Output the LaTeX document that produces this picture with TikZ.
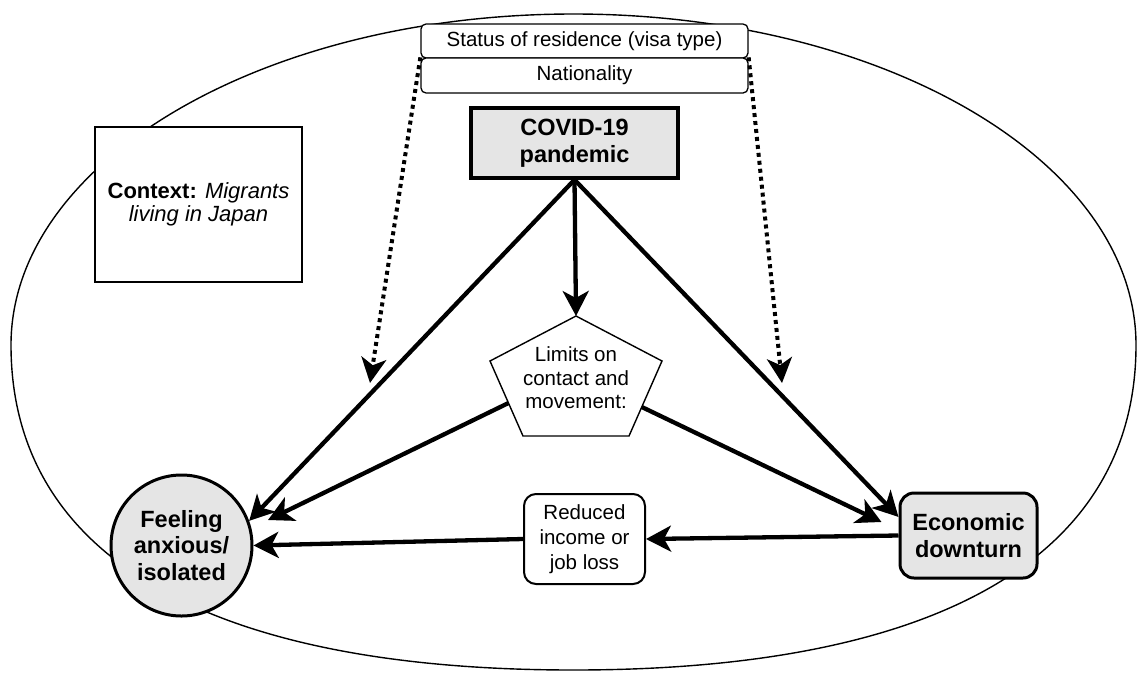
\documentclass[tikz,border=0pt]{standalone}
\usepackage{fontspec}
\setmainfont{Liberation Sans}
\usetikzlibrary{arrows.meta,calc}
\begin{document}
\begin{tikzpicture}[x=1pt,y=-1pt,
  reg/.style={font=\fontsize{20.5}{23.5}\selectfont, align=center},
  bld/.style={font=\fontsize{23.5}{26.5}\selectfont\bfseries, align=center},
  arr/.style={line width=4.3pt, -{Stealth[length=25pt,width=26pt,inset=7pt]}},
  dots/.style={line width=4pt, dash pattern=on 4pt off 4pt, -{Stealth[length=25pt,width=25pt,inset=7pt]}},
  thinbox/.style={draw, line width=1.3pt, rounded corners=5pt, fill=white, minimum width=327pt, reg, inner sep=1pt},
  ]
\useasboundingbox (0,0) rectangle (1137,697);
% outer outline
\draw[line width=1.4pt] (11,345) .. controls (11,162) and (262.8,14) .. (573.5,14)
  .. controls (884.2,14) and (1136,162) .. (1136,345)
  .. controls (1136,556) and (939,670) .. (573.5,670)
  .. controls (208,670) and (11,556) .. (11,345) -- cycle;
% nodes
\node[thinbox, minimum height=34pt] (status) at (584.5,41) {Status of residence (visa type)};
\node[thinbox, minimum height=35pt] (nation) at (584.5,75.5) {Nationality};
\node[draw, line width=3.5pt, fill=black!10, minimum width=207pt, minimum height=70pt, bld] (covid) at (574.5,143) {COVID-19\\pandemic};
\node[draw, line width=2pt, fill=white, minimum width=207pt, minimum height=155pt, font=\fontsize{22}{23.5}\selectfont, align=center] (context) at (198.5,204.5) {\textbf{Context:} \textit{Migrants}\\\textit{living in Japan}};
\draw[line width=1.4pt, fill=white] (576,316) coordinate (p1) -- (662,361) coordinate (p2) -- (629,436) coordinate (p3) -- (523,436) coordinate (p4) -- (490,361) coordinate (p5) -- cycle;
\node[reg] (pent) at (576,378) {Limits on\\contact and\\movement:};
\node[draw, circle, line width=3pt, fill=black!10, minimum size=141pt, inner sep=0pt, bld] (feel) at (181.5,545.5) {Feeling\\anxious/\\isolated};
\node[draw, rounded corners=12pt, line width=2pt, fill=white, minimum width=121pt, minimum height=90pt, font=\fontsize{20.5}{25}\selectfont, align=center, inner sep=2pt] (red) at (584.5,539) {Reduced\\income or\\job loss};
\node[draw, rounded corners=14pt, line width=3pt, fill=black!10, minimum width=137pt, minimum height=85pt, bld] (eco) at (968.5,535.5) {Economic\\downturn};
% connector ends
\coordinate (pl) at ($(p5)!0.56!(p4)$);
\coordinate (pr) at ($(p2)!0.613!(p3)$);
\coordinate (feelA) at ($(feel.center)+(86.5,-25.5)$);
\coordinate (ecoA) at ($(eco.west)+(0,-18.5)$);
\coordinate (ecoB) at ($(eco.west)+(-17,-13.5)$);
\coordinate (dlE) at (370,383);
\coordinate (drE) at (782,383);
% connectors
\draw[arr] (covid.south) -- (p1);
\draw[arr] (covid.south) -- (feel.20);
\draw[arr] (covid.south) -- (ecoA);
\draw[arr] (pl) -- (feelA);
\draw[arr] (pr) -- (ecoB);
\draw[arr] (eco.west) -- (red.east);
\draw[arr] (red.west) -- (feel.east);
\draw[dots] (nation.north west) -- (dlE);
\draw[dots] (nation.north east) -- (drE);
\end{tikzpicture}
\end{document}
